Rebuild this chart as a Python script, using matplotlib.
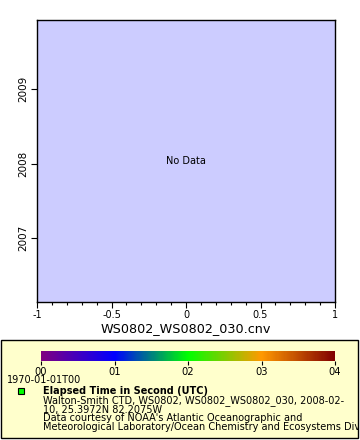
import numpy as np
import matplotlib
matplotlib.use('Agg')
import matplotlib.pyplot as plt
from matplotlib import rcParams
from matplotlib.colors import LinearSegmentedColormap, Normalize
from matplotlib.cm import ScalarMappable
from matplotlib.patches import Rectangle
from matplotlib.lines import Line2D

rcParams['font.family'] = ['DejaVu Sans']

# axis ranges and ticks
x_range = [-1, 1]
x_ticks = [-1, -0.5, 0, 0.5, 1]
x_tick_labels = ['-1', '-0.5', '0', '0.5', '1']
x_minor = np.arange(-10, 11) / 10
y_range = [2006.14, 2009.93]
y_ticks = [2007, 2008, 2009]
y_tick_labels = ['2007', '2008', '2009']

# colour bar
cbar_range = [0, 4]
cbar_ticks = [0, 1, 2, 3, 4]
cbar_tick_labels = ['00', '01', '02', '03', '04']
cbar_colors = ['#800080', '#0000ff', '#00ff00', '#ff9900', '#800000']

x_title = 'WS0802_WS0802_030.cnv'
time_label = '1970-01-01T00'
legend_title = 'Elapsed Time in Second (UTC)'
legend_lines = [
    'Walton-Smith CTD, WS0802, WS0802_WS0802_030, 2008-02-',
    '10, 25.3972N 82.2075W',
    "Data courtesy of NOAA's Atlantic Oceanographic and",
    'Meteorological Laboratory/Ocean Chemistry and Ecosystems Division',
]

W, H = 360, 440
fig = plt.figure(figsize=(W / 100, H / 100), dpi=100)


def fx(px):
    return px / W


def fy(py):
    return 1 - py / H


# main plot
ax = fig.add_axes([fx(37), fy(302), fx(335) - fx(37), fy(20) - fy(302)])
ax.set_facecolor('#ccccff')
ax.set_xlim(x_range)
ax.set_ylim(y_range)
ax.set_xticks(x_ticks)
ax.set_xticklabels(x_tick_labels, fontsize=7)
ax.set_xticks(x_minor, minor=True)
ax.set_yticks(y_ticks)
ax.set_yticklabels(y_tick_labels, fontsize=7.5, rotation=90, va='center')
ax.tick_params(axis='both', which='major', length=4, width=0.8, direction='out', pad=2)
ax.tick_params(axis='x', which='minor', length=2, width=0.8, direction='out')
for s in ax.spines.values():
    s.set_linewidth(1)
ax.set_xlabel(x_title, fontsize=9.2, labelpad=1)
ax.text(0.5, 0.5, 'No Data', transform=ax.transAxes, ha='center', va='center', fontsize=7)

# legend box
box = Rectangle((fx(1), fy(438)), fx(358) - fx(1), fy(340) - fy(438),
                transform=fig.transFigure, facecolor='#ffffcc', edgecolor='black',
                linewidth=1, zorder=0)
fig.add_artist(box)

cmap = LinearSegmentedColormap.from_list('rb', cbar_colors)
cax = fig.add_axes([fx(41), fy(361), fx(335) - fx(41), fy(351) - fy(361)])
cb = fig.colorbar(ScalarMappable(norm=Normalize(*cbar_range), cmap=cmap),
                  cax=cax, orientation='horizontal')
cb.set_ticks(cbar_ticks)
cb.set_ticklabels(cbar_tick_labels)
cb.outline.set_visible(False)
cax.tick_params(length=3, width=0.8, labelsize=7.2, pad=1)

fig.text(fx(7), fy(380), time_label, fontsize=7, va='center', ha='left')
fig.add_artist(Line2D([fx(21)], [fy(391)], marker='s', markersize=4.5,
                      markerfacecolor='#00ff00', markeredgecolor='black',
                      markeredgewidth=0.8, transform=fig.transFigure))
fig.text(fx(43), fy(391), legend_title, fontsize=7, fontweight='bold', va='center', ha='left')
for i, line in enumerate(legend_lines):
    t = fig.text(fx(43), fy(401 + i * 8.7), line, fontsize=7, va='center', ha='left')
    t.set_clip_path(box)

fig.savefig('out.png', dpi=100)
